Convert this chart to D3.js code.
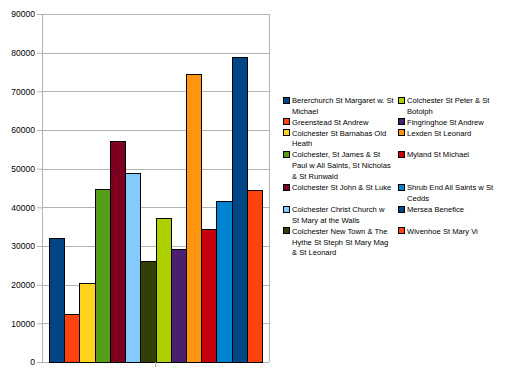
<!DOCTYPE html>
<meta charset="utf-8">
<style>
 body { margin: 0; background: #fff; }
 .axis text { font: 8.5px "Liberation Sans", sans-serif; fill: #000; }
 .legend text { font: 7.6px "Liberation Sans", sans-serif; fill: #000; }
</style>
<body>
<svg width="512" height="384"></svg>
<script src="https://d3js.org/d3.v7.min.js"></script>
<script>

 // parishes (series) in legend order, wrapped lines as in the original legend
 var parishes = [
     ["Bererchurch St Margaret w. St", "Michael"],
     ["Greenstead St Andrew"],
     ["Colchester St Barnabas Old", "Heath"],
     ["Colchester, St James & St", "Paul w All Saints, St Nicholas", "& St Runwald"],
     ["Colchester St John & St Luke"],
     ["Colchester Christ Church w", "St Mary at the Walls"],
     ["Colchester New Town & The", "Hythe St Steph St Mary Mag", "& St Leonard"],
     ["Colchester St Peter & St", "Botolph"],
     ["Fingringhoe St Andrew"],
     ["Lexden St Leonard"],
     ["Myland St Michael"],
     ["Shrub End All Saints w St", "Cedds"],
     ["Mersea Benefice"],
     ["Wivenhoe St Mary Vi"]
 ];
 var values = [32000, 12300, 20400, 44700, 57100, 49000, 26000, 37200, 29100, 74600, 34500, 41600, 78800, 44400];
 var colors = ["#004586", "#ff420e", "#ffd320", "#579d1c", "#7e0021", "#83caff", "#314004",
               "#aecf00", "#4b1f6f", "#ff950e", "#c5000b", "#0084d1", "#004586", "#ff420e"];
 var yTicks = [0, 10000, 20000, 30000, 40000, 50000, 60000, 70000, 80000, 90000];

 var svg = d3.select("svg"),
     margin = {top: 14, right: 243, bottom: 22, left: 42},
     width = svg.attr("width") - margin.left - margin.right,
     height = svg.attr("height") - margin.top - margin.bottom;

 svg.append("rect").attr("width", 512).attr("height", 384).attr("fill", "#fff");

 var g = svg.append("g")
     .attr("transform", "translate(" + margin.left + "," + margin.top + ")");

 var y = d3.scaleLinear().domain([0, 90000]).range([height, 0]);

 var x0 = d3.scaleBand().domain([""]).range([0, width])
     .paddingInner(0).paddingOuter(0.033);
 var x1 = d3.scaleBand().domain(d3.range(values.length))
     .range([0, x0.bandwidth()]);

 // grid
 g.append("g")
  .selectAll("line").data(yTicks).enter().append("line")
  .attr("x1", 0).attr("x2", width)
  .attr("y1", function(d) { return Math.round(y(d)) + 0.5; })
  .attr("y2", function(d) { return Math.round(y(d)) + 0.5; })
  .style("stroke", "#b3b3b3");

 g.append("line")
  .attr("x1", width + 0.5).attr("x2", width + 0.5)
  .attr("y1", 0).attr("y2", height)
  .style("stroke", "#b3b3b3");

 // bars
 g.append("g")
  .selectAll("rect").data(values).enter().append("rect")
  .attr("x", function(d, i) { return Math.round(x0("") + x1(i)) + 0.5; })
  .attr("y", function(d) { return Math.round(y(d)) + 0.5; })
  .attr("width", function(d, i) { return Math.round(x0("") + x1(i) + x1.bandwidth()) - Math.round(x0("") + x1(i)); })
  .attr("height", function(d) { return Math.round(y(0)) - Math.round(y(d)); })
  .style("fill", function(d, i) { return colors[i]; })
  .style("stroke", "#000")
  .style("stroke-width", 1);

 // y axis
 var yAxis = g.append("g")
  .attr("class", "axis")
  .call(d3.axisLeft(y).tickValues(yTicks).tickSize(5).tickPadding(2).tickFormat(d3.format("d")));
 yAxis.select(".domain").style("stroke", "#b3b3b3");
 yAxis.selectAll(".tick line").style("stroke", "#b3b3b3");

 // x axis: single category, tick at centre
 var xAxis = g.append("g")
  .attr("class", "axis")
  .attr("transform", "translate(0," + height + ")")
  .call(d3.axisBottom(x0).tickSize(5).tickFormat(""));
 xAxis.select(".domain").remove();
 xAxis.selectAll(".tick line").style("stroke", "#b3b3b3");

 // legend: two columns, rows as tall as their tallest entry
 var legend = svg.append("g").attr("class", "legend");
 var lineH = 10.9, colX = [283, 398], half = Math.ceil(parishes.length / 2);
 var yPos = 100;
 for (var r = 0; r < half; r++) {
     var pair = [r, r + half];
     var rows = 1;
     pair.forEach(function(idx, c) {
         if (idx >= parishes.length) return;
         var lines = parishes[idx];
         rows = Math.max(rows, lines.length);
         legend.append("rect")
             .attr("x", colX[c] + 0.5).attr("y", Math.round(yPos - 3.5) + 0.5)
             .attr("width", 6).attr("height", 6)
             .style("fill", colors[idx]).style("stroke", "#000");
         var t = legend.append("text")
             .attr("x", colX[c] + 9).attr("y", yPos + 2.8);
         lines.forEach(function(l, k) {
             t.append("tspan").attr("x", colX[c] + 9).attr("dy", k ? lineH : 0).text(l);
         });
     });
     yPos += rows * lineH;
 }

</script>
</body>
